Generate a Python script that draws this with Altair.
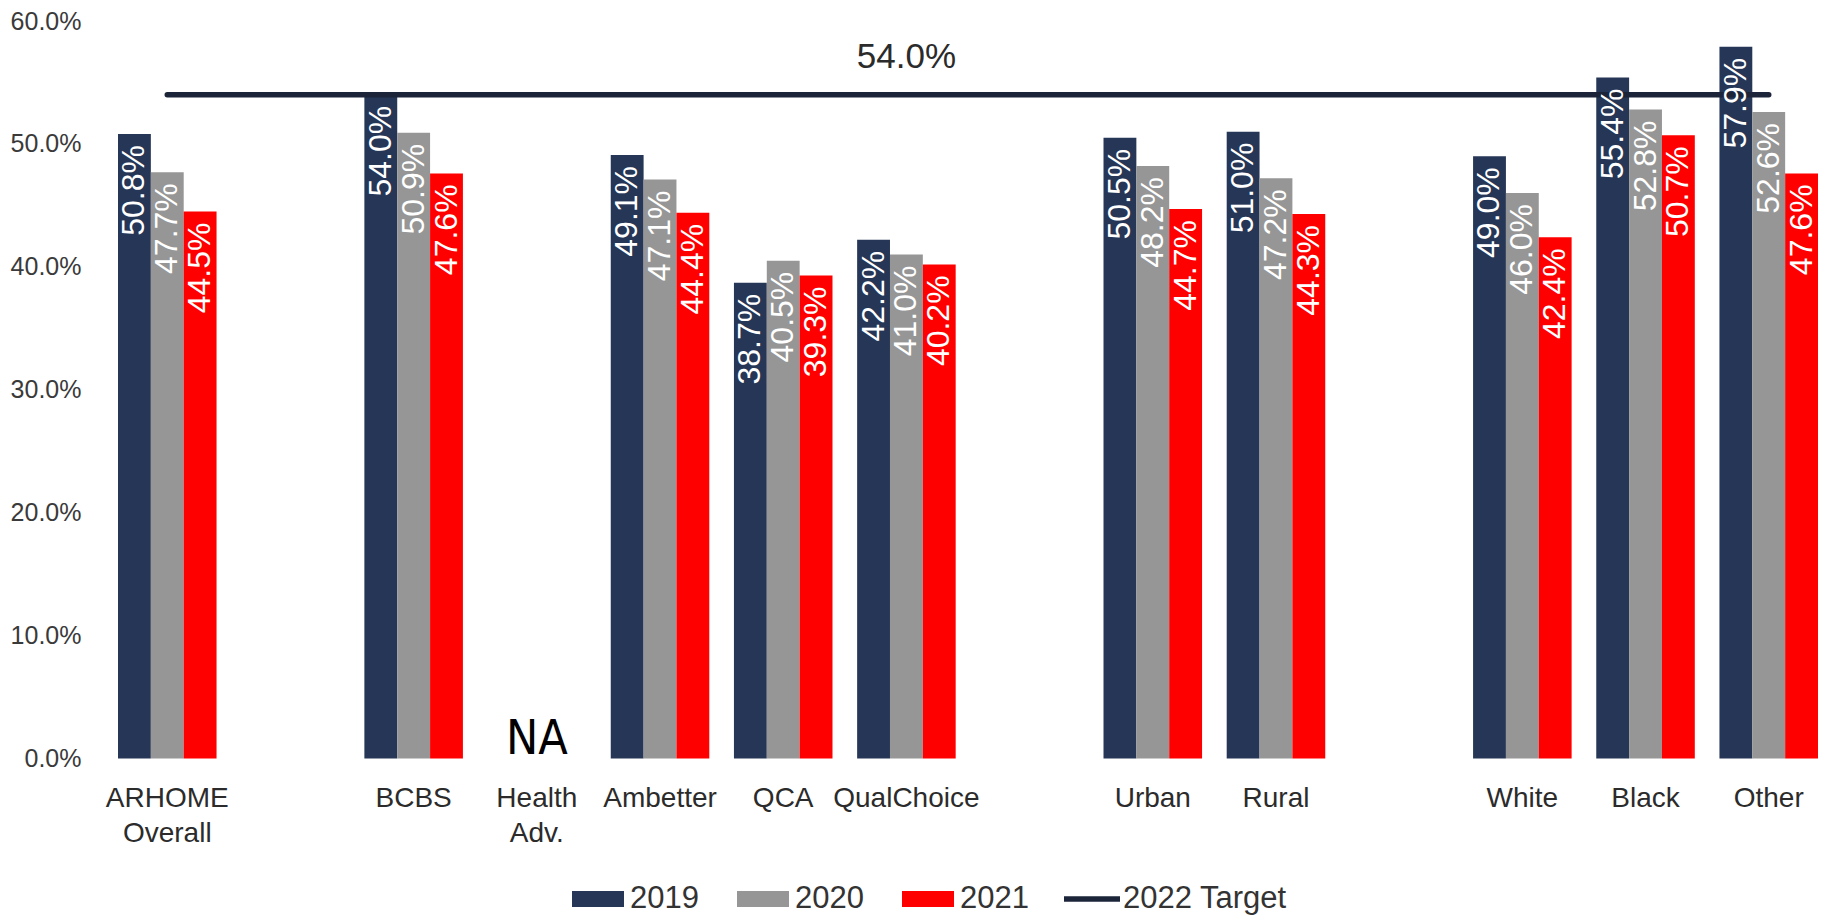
import altair as alt
import pandas as pd

# ---- data ----
axis_order = ["ARHOME\nOverall", " ", "BCBS", "Health\nAdv.", "Ambetter", "QCA",
              "QualChoice", "  ", "Urban", "Rural", "   ", "White", "Black", "Other"]
categories = ["ARHOME\nOverall", "BCBS", "Ambetter", "QCA", "QualChoice",
              "Urban", "Rural", "White", "Black", "Other"]
v2019 = [0.508, 0.540, 0.491, 0.387, 0.422, 0.505, 0.510, 0.490, 0.554, 0.579]
v2020 = [0.477, 0.509, 0.471, 0.405, 0.410, 0.482, 0.472, 0.460, 0.528, 0.526]
v2021 = [0.445, 0.476, 0.444, 0.393, 0.402, 0.447, 0.443, 0.424, 0.507, 0.476]
years = ["2019", "2020", "2021"]
year_colors = ["#263656", "#969696", "#ff0000"]

na_categories = ["Health\nAdv."]
na_labels = ["NA"]

target_value = 0.54
target_name = "2022 Target"
target_span = ["ARHOME\nOverall", "Other"]
target_label_cat = "QualChoice"

rows = []
for yr, vals in zip(years, [v2019, v2020, v2021]):
    for c, v in zip(categories, vals):
        rows.append({"cat": c, "year": yr, "value": v})
df = pd.DataFrame(rows)
df_target = pd.DataFrame({"cat": target_span, "value": [target_value] * 2,
                          "series": [target_name] * 2})
df_tlabel = pd.DataFrame({"cat": [target_label_cat], "value": [target_value]})
df_na = pd.DataFrame({"cat": na_categories, "label": na_labels, "value": [0.0]})

FONT = "Liberation Sans, Arial, sans-serif"

x_enc = alt.X("cat:N", sort=axis_order,
              scale=alt.Scale(domain=axis_order, paddingInner=0.2, paddingOuter=0),
              axis=alt.Axis(title=None, labelAngle=0, domain=False, ticks=False,
                            labelFontSize=28, labelFont=FONT, labelColor="#2b2b2b",
                            labelPadding=26, labelLineHeight=35,
                            labelExpr="split(datum.value, '\\n')",
                            labelBaseline="top"))
y_enc = alt.Y("value:Q", scale=alt.Scale(domain=[0, 0.6], nice=False),
              axis=alt.Axis(title=None, values=[0, 0.1, 0.2, 0.3, 0.4, 0.5, 0.6],
                            format=".1%", grid=False, domain=False, ticks=False,
                            labelFontSize=25, labelFont=FONT, labelColor="#3a3a3a",
                            labelPadding=37))

bars = alt.Chart(df).mark_bar().encode(
    x=x_enc,
    xOffset=alt.XOffset("year:N", sort=years, scale=alt.Scale(paddingInner=0, paddingOuter=0)),
    y=y_enc,
    color=alt.Color("year:N", sort=years,
                    scale=alt.Scale(domain=years, range=year_colors),
                    legend=alt.Legend(orient="none", legendX=454, legendY=852,
                                      direction="horizontal", title=None,
                                      symbolType="M-1,-0.31H1V0.31H-1Z", symbolSize=2704,
                                      symbolStrokeWidth=0,
                                      labelFontSize=31, labelFont=FONT, labelColor="#333333",
                                      labelOffset=6, columnPadding=38, padding=0,
                                      labelLimit=300)),
)

labels = alt.Chart(df).mark_text(angle=270, align="right", baseline="middle", dx=-11,
                                 color="white", fontSize=32, font=FONT).encode(
    x=alt.X("cat:N", sort=axis_order),
    xOffset=alt.XOffset("year:N", sort=years),
    y=alt.Y("value:Q"),
    text=alt.Text("value:Q", format=".1%"),
)

target = alt.Chart(df_target).mark_line(strokeWidth=5.5, strokeCap="round").encode(
    x=alt.X("cat:N", sort=axis_order),
    y=alt.Y("value:Q"),
    color=alt.Color("series:N",
                    scale=alt.Scale(domain=[target_name], range=["#1b2438"]),
                    legend=alt.Legend(orient="none", legendX=943, legendY=847,
                                      title=None, symbolType="stroke", symbolSize=3136,
                                      symbolStrokeWidth=5.5,
                                      labelFontSize=31, labelFont=FONT, labelColor="#333333",
                                      labelOffset=0, padding=0, labelLimit=400)),
)

tlabel = alt.Chart(df_tlabel).mark_text(dy=-38, fontSize=35, font=FONT,
                                        color="#2b2b2b", baseline="middle").encode(
    x=alt.X("cat:N", sort=axis_order),
    y=alt.Y("value:Q"),
    text=alt.Text("value:Q", format=".1%"),
)

na = alt.Chart(df_na).mark_text(dy=-5, fontSize=48, color="black", baseline="alphabetic",
                                font="Liberation Sans Narrow, DejaVu Sans Condensed, sans-serif").encode(
    x=alt.X("cat:N", sort=axis_order),
    y=alt.Y("value:Q"),
    text="label:N",
)

chart = alt.layer(bars, target, labels, tlabel, na).resolve_scale(
    color="independent"
).properties(
    width=1700, height=737.5,
    autosize=alt.AutoSizeParams(type="none"),
    padding={"left": 110, "top": 13, "right": 0, "bottom": 160.5},
).configure_view(stroke=None)

chart.save("out.html", embed_options={"renderer": "svg", "actions": False})
